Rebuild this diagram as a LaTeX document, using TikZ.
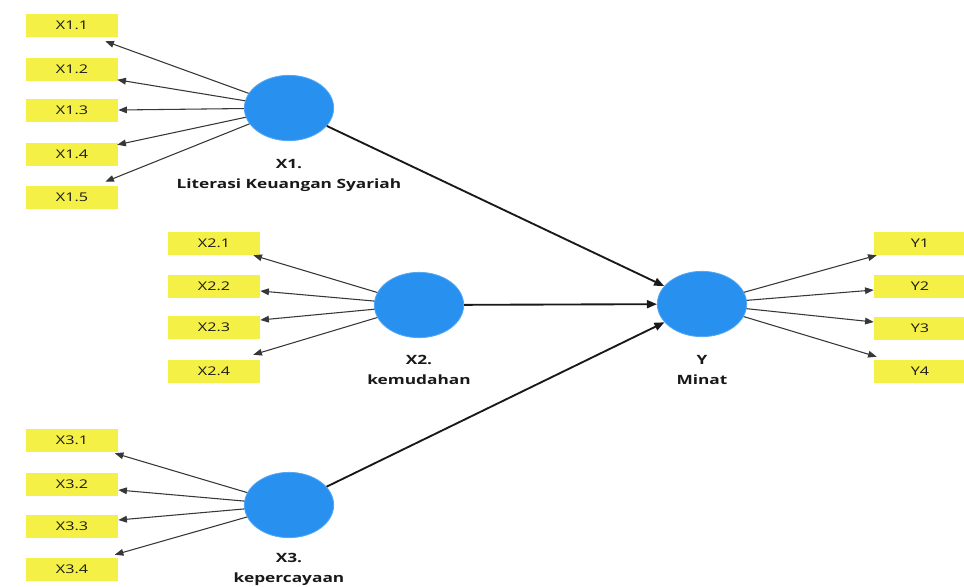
\documentclass[tikz,border=0pt]{standalone}
\usepackage{fontspec}
\usepackage{graphicx}
\setmainfont{Open Sans}
\usetikzlibrary{shapes.geometric,arrows.meta,calc}
\definecolor{indyellow}{RGB}{245,240,70}
\definecolor{lvblue}{RGB}{40,145,240}
\definecolor{indline}{RGB}{55,55,55}
\newcommand{\wide}[1]{\scalebox{1.35}[1]{#1}}
\tikzset{
  ind/.style={rectangle, fill=indyellow, draw=none, minimum width=69pt, minimum height=17.25pt, inner sep=0pt, font=\fontsize{9}{10}\selectfont, text=black!90},
  lv/.style={ellipse, fill=lvblue, draw=lvblue!80!white, line width=0.6pt, minimum width=67pt, minimum height=49pt, inner sep=0pt},
  lvlab/.style={align=center, font=\bfseries\fontsize{9.6}{15}\selectfont, text=black!90, inner sep=0pt},
  load/.style={draw=indline, line width=0.8pt, -{Triangle[length=6.5pt,width=5pt]}},
  path/.style={draw=black!90, line width=1.4pt, -{Triangle[length=7.5pt,width=6pt]}}
}
\begin{document}
\begin{tikzpicture}[x=0.75pt,y=-0.75pt]
\useasboundingbox (0,0) rectangle (964,586);
% latent variables
\node[lv] (X1) at (289,108) {};
\node[lv] (X2) at (419,305) {};
\node[lv] (X3) at (289,505) {};
\node[lv] (Y) at (702,304) {};
\node[lvlab] (X1lab) at (289,175) {\wide{X1.}\\\wide{Literasi Keuangan Syariah}};
\node[lvlab] (X2lab) at (419,370) {\wide{X2.}\\\wide{kemudahan}};
\node[lvlab] (X3lab) at (289,569) {\wide{X3.}\\\wide{kepercayaan}};
\node[lvlab] (Ylab) at (702,370) {\wide{Y}\\\wide{Minat}};
% indicators
\node[ind] (x11) at (72,25) {\wide{X1.1}};
\node[ind] (x12) at (72,69) {\wide{X1.2}};
\node[ind] (x13) at (72,110) {\wide{X1.3}};
\node[ind] (x14) at (72,154) {\wide{X1.4}};
\node[ind] (x15) at (72,197) {\wide{X1.5}};
\node[ind] (x21) at (214,243) {\wide{X2.1}};
\node[ind] (x22) at (214,286) {\wide{X2.2}};
\node[ind] (x23) at (214,327) {\wide{X2.3}};
\node[ind] (x24) at (214,371) {\wide{X2.4}};
\node[ind] (x31) at (72,440) {\wide{X3.1}};
\node[ind] (x32) at (72,484) {\wide{X3.2}};
\node[ind] (x33) at (72,526) {\wide{X3.3}};
\node[ind] (x34) at (72,569) {\wide{X3.4}};
\node[ind] (y1) at (920,243) {\wide{Y1}};
\node[ind] (y2) at (920,286) {\wide{Y2}};
\node[ind] (y3) at (920,328) {\wide{Y3}};
\node[ind] (y4) at (920,371) {\wide{Y4}};
% loadings
\draw[load] (X1) -- ($(x11.south east)+(-13,4.5)$);
\draw[load] (X1) -- ($(x12.south east)+(-1,-1)$);
\draw[load] (X1) -- (x13.east);
\draw[load] (X1) -- ($(x14.north east)+(-1,2.5)$);
\draw[load] (X1) -- ($(x15.north east)+(-13,-3.5)$);
\draw[load] (X2) -- ($(x21.south east)+(-7,0.5)$);
\draw[load] (X2) -- ($(x22.east)+(0,5)$);
\draw[load] (X2) -- ($(x23.east)+(0,-7)$);
\draw[load] (X2) -- ($(x24.north east)+(-7,-4.5)$);
\draw[load] (X3) -- ($(x31.south east)+(-3.5,1.5)$);
\draw[load] (X3) -- ($(x32.east)+(0,6)$);
\draw[load] (X3) -- ($(x33.east)+(0,-6)$);
\draw[load] (X3) -- ($(x34.north east)+(-3.5,-2.5)$);
\draw[load] (Y) -- ($(y1.south west)+(3,0.5)$);
\draw[load] (Y) -- ($(y2.west)+(0,4)$);
\draw[load] (Y) -- ($(y3.west)+(0,-6)$);
\draw[load] (Y) -- ($(y4.north west)+(3,-2.5)$);
% structural paths
\draw[path] (X1) -- (Y);
\draw[path] (X2) -- (Y);
\draw[path] (X3) -- (Y);
\end{tikzpicture}
\end{document}
